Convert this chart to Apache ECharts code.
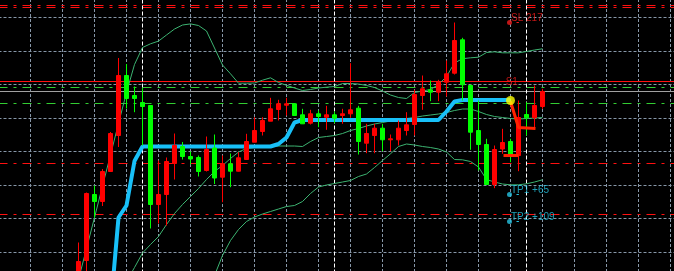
<!DOCTYPE html>
<html><head><meta charset="utf-8">
<script src="https://cdn.jsdelivr.net/npm/echarts@6/dist/echarts.min.js"></script>
<style>html,body{margin:0;padding:0;background:#000;overflow:hidden}#c{width:674px;height:271px}</style>
</head><body><div id="c"></div>
<script>
// bar numbers (x) and OHLC values (price points)
const bars = [0,1,2,3,4,5,6,7,8,9,10,11,12,13,14,15,16,17,18,19,20,21,22,23,24,25,26,27,28,29,30,31,32,33,34,35,36,37,38,39,40,41,42,43,44,45,46,47,48,49,50,51,52,53,54,55,56,57,58];
const opens = [-5,25,91,84,114,150,210,190,183,180, 81,91,122,139,129,128,115,137.5,108.3,121.7, 114.3,126,143.3,154,164.3,176,180.3,181.7,170.7,162.3, 171.7,168.3,170.7,170,171.7,177.3,142.3,150,157.3,145.7, 145.7,155,161,190,195.7,193.3,203.3,212.3,245.7,200, 155,141,101,136.5,144,130,171,167.7,179];
const closes = [24,92,84,114,152,210,187,187,179,81, 91,124,140,129,126.5,114,136,107.5,121.7,114.3, 127.7,144,155,165,176.7,181.7,181.7,170,161.7,171.7, 169,170.7,167.3,171.7,175.7,144,152,157.3,145.7,146.7, 157.3,160.7,191,196.7,193.3,203.3,211.7,245,200.7,153.3, 141,101,136,143,129,168,167.7,180,194];
const lows = [-15,9,68,79.5,114,138.5,177,173.3,140,57, 62,60,106,126,121,109,114,101.5,83.3,98.3, 114,126,143.3,150,164.3,165,170,170,161.7,161, 158.3,155.7,162.3,161.7,167.7,131,132.3,132.3,134.3,134.3, 140,150,150,175.7,184.3,184.3,189,211,185,135.7, 115,101,97.3,131.7,123.3,114.3,150,156,176.7];
const highs = [43,93,100,116.5,153.5,227.5,221.5,199,197.5,180, 125,128,152,143.5,134,130,149,151,130,132, 133.3,151.7,168.3,168.3,187.7,185.7,187.7,182,176.7,175.7, 175,179.7,174,176.7,222.3,179.7,161.7,161.7,161.7,151, 165,173.3,195.7,210,205,205.7,225,263,247.7,201, 185,146.7,140,156.7,146.7,185,183.3,200,196.7];

// trailing stop line (cyan)
const trail = [null,null,null,null,-24,68,80,124.5,139,139, 139,139,139,139,139,139,139,139,139,139, 139,139,139,139,139,141.5,148,163,165.5,165.5, 165.5,165.5,165.5,165.5,165.5,165.5,165.5,165.5,165.5,165.5, 165.5,165.5,165.5,165.5,165.5,165.5,174,184,185.5,185.5, 185.5,185.5,185.5,185.5,185.5,null,null,null,null];

// bands (green thin lines)
const bandUpper = [6,37,68,99.5,130.6,162,193,221,238,241.7, 244.4,250.5,256.5,260.5,261.6,260,254.5,237.5,220.5,211.7, 202.3,202.3,202.5,205.3,207.7,203,200.2,197.5,195,196, 197.5,198.3,199,202,202,201.5,200,198,194.5,190.5, 188,187,193,194.5,196,201,209,222.5,226.8,227.7, 228.3,233,233.7,232.7,232.7,232.7,234,235.5,236.7];
const bandMiddle = [null,null,null,null,null,null,4,18,32.5,41, 49,61,72,81,89,97,106,114,120,127, 133.5,137,138,138.5,139,139.5,139.5,139.5,139,144, 148,149,150,152,155,157,159.5,161.5,163,164.5, 166,167,168,169.5,170.5,171.5,173,175,176.5,176.5, 174,171,169,168,167,166.5,167,167.5,168];
const bandLower = [null,null,null,null,null,null,null,null,null,null, null,null,null,null,null,null,null,10,30,45, 56,64,68.5,71.5,74,76.5,79,80,84,92, 98.5,100.5,102,103.5,105,109,111.5,118,125,131.7, 139,141.5,140.5,139,138,136.5,133.5,126,125.7,124, 118.5,106,103.5,101.5,100.7,100.7,101.7,103.5,105.7];

// horizontal levels
const redTopLevels = [280, 278];
const redSolidLevels = [204];
const greenDashLevels = [198, 182];
const greySolidLevels = [194];
const redDashDotLevels = [122, 71];
const separatorBars = [8, 32, 56];

// trade objects
const entryPoint = [54, 185];
const tradePath = [[54, 184], [55, 158], [57.125, 157]];
const stopPath = [[53.125, 130], [55, 130]];
const tradeLabels = ['SL 217', 'TP1 +65', 'TP2 +109'];
const tradeLabelLevels = [263, 91, 64];
const tradeLabelColors = ['#f01c1c', '#26c4e2', '#26c4e2'];
const tradeLabelBar = 53.875;
const tickStartBar = 54.75;
const tickEndBar = 55.05;
const markerText = 'S1';
const markerPoint = [53.4, 198];

const pairs = arr => bars.map((k, i) => [k, arr[i]]);

const hl = (vals, style) => vals.map(v => ({ yAxis: v, lineStyle: style }));
const markLines = []
  .concat(hl(redTopLevels, { color: '#ff1010', width: 1, type: [9, 6, 3, 6] }))
  .concat(hl(redSolidLevels, { color: '#ff1010', width: 1, type: 'solid' }))
  .concat(hl(greenDashLevels, { color: '#32cd32', width: 1, type: [9, 6, 3, 6] }))
  .concat(hl(greySolidLevels, { color: '#a0a0a0', width: 1, type: 'solid' }))
  .concat(hl(redDashDotLevels, { color: '#ff1010', width: 1, type: [9, 6, 3, 6] }))
  .concat(separatorBars.map(b => ({ xAxis: b, lineStyle: { color: '#ffffff', width: 1, type: [4, 2] } })));

const chart = echarts.init(document.getElementById('c'), null, { renderer: 'canvas' });
const hiddenAxis = { axisLine: { show: false }, axisTick: { show: false }, axisLabel: { show: false } };
const gridStyle = { show: true, lineStyle: { color: '#8797a8', width: 1, type: [3, 2] } };

const tickSeries = tradeLabelLevels.map((v, i) => ({
  type: 'line', name: 'tick' + i, symbol: 'none', z: 6,
  data: [[tickStartBar, v], [tickEndBar, v]],
  lineStyle: { color: tradeLabelColors[i], width: 1 }
}));

chart.setOption({
  backgroundColor: '#000000',
  animation: false,
  grid: { left: -1.5, right: -28.5, top: -16, bottom: -14.5, containLabel: false, outerBoundsMode: 'none' },
  xAxis: [
    Object.assign({ type: 'value', min: -10, max: 78, splitLine: { show: false } }, hiddenAxis),
    Object.assign({ type: 'value', min: 0, max: 704, interval: 32, splitLine: gridStyle }, hiddenAxis)
  ],
  yAxis: Object.assign({ type: 'value', min: 0, max: 301.5, interval: 33.5, splitLine: gridStyle }, hiddenAxis),
  series: [
    {
      type: 'line', name: 'upper', data: pairs(bandUpper), symbol: 'none', z: 2,
      lineStyle: { color: '#3cb371', width: 1 },
      markLine: { silent: true, symbol: ['none', 'none'], label: { show: false }, data: markLines, z: 1 }
    },
    { type: 'line', name: 'middle', data: pairs(bandMiddle), symbol: 'none', z: 2, lineStyle: { color: '#3cb371', width: 1 } },
    { type: 'line', name: 'lower', data: pairs(bandLower), symbol: 'none', z: 2, lineStyle: { color: '#3cb371', width: 1 } },
    { type: 'line', name: 'trail', data: pairs(trail), symbol: 'none', z: 3, lineStyle: { color: '#18c0f8', width: 4 } },
    {
      type: 'candlestick', name: 'price', z: 4, barWidth: 4,
      data: bars.map((k, i) => [k, opens[i], closes[i], lows[i], highs[i]]),
      encode: { x: 0, y: [1, 2, 3, 4] },
      itemStyle: { color: '#ff0000', color0: '#00ff00', borderColor: '#ff0000', borderColor0: '#00ff00', borderWidth: 1 }
    },
    { type: 'line', name: 'trade', data: tradePath, symbol: 'none', z: 5, lineStyle: { color: '#ff2200', width: 3 } },
    { type: 'line', name: 'stop', data: stopPath, symbol: 'none', z: 5, lineStyle: { color: '#ff2200', width: 3 } },
    { type: 'scatter', name: 'entry', data: [entryPoint], symbolSize: 9, z: 6, itemStyle: { color: '#ffff00' } },
    {
      type: 'scatter', name: 'labels', z: 6, symbolSize: 5,
      data: tradeLabels.map((t, i) => ({
        name: t, value: [tradeLabelBar, tradeLabelLevels[i]],
        itemStyle: { color: tradeLabelColors[i] },
        label: { color: tradeLabelColors[i] }
      })),
      label: {
        show: true, formatter: p => p.name, position: [4, 3.5], align: 'left', verticalAlign: 'bottom',
        fontSize: 10, fontFamily: 'Liberation Sans'
      }
    },
    {
      type: 'scatter', name: 'marker', z: 6, symbolSize: 0,
      data: [{ name: markerText, value: markerPoint }],
      label: { show: true, formatter: p => p.name, position: [0, 0], align: 'left', verticalAlign: 'bottom',
        color: '#f01c1c', fontSize: 10, fontFamily: 'Liberation Sans' }
    }
  ].concat(tickSeries)
});
</script>
</body></html>
